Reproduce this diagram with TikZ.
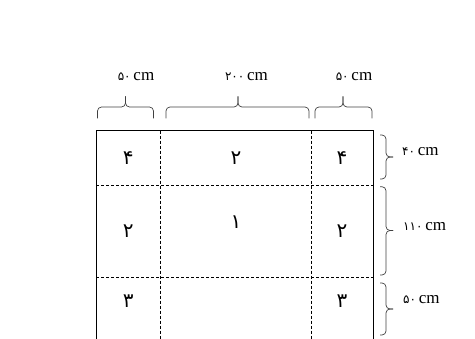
\documentclass[tikz,border=0pt]{standalone}
\usepackage{fontspec}
\setmainfont{Liberation Serif}
\newfontfamily\farsi[Script=Arabic]{DejaVu Sans}
\usetikzlibrary{positioning}

\begin{document}
\begin{tikzpicture}[x=1pt,y=-1pt]
 \tikzset{cell node/.style={font=\farsi\fontsize{20}{20}\selectfont,
 		text centered, inner sep=0pt}, }
 \tikzset{dim node/.style={font=\fontsize{17}{17}\selectfont,
 		inner sep=0pt}, }
 \tikzset{outer line/.style={line width=0.9pt}, }
 \tikzset{cut line/.style={dashed, line width=0.7pt,
 		dash pattern=on 3pt off 2pt}, }
 \tikzset{brace line/.style={line width=0.7pt, black!75,
 		rounded corners=4pt}, }
 \useasboundingbox (0,0) rectangle (475,339);
 % grid
 \coordinate (tl) at (96,130.7);
 \coordinate (tr) at (373,130.7);
 \coordinate (bl) at (96,339);
 \coordinate (br) at (373,339);
 \draw[outer line] (bl) -- (tl) -- (tr) -- (br);
 \draw[cut line] (96,185) -- (373,185);
 \draw[cut line] (96,277.7) -- (373,277.7);
 \draw[cut line] (160.7,130.7) -- (160.7,339);
 \draw[cut line] (311,130.7) -- (311,339);
 % cells
 \foreach \n/\x/\y/\t in {a/128.3/157.8/۴, b/236/157.8/۲, c/342/157.8/۴,
 		d/128.3/231/۲, e/236/222.5/۱, f/342/231/۲,
 		g/128.3/300.8/۳, h/342/300.8/۳}
 \node[cell node] (\n) at (\x,\y) {\t};
 % top braces
 \foreach \a/\m/\b in {97.5/125.5/153.5, 166/238/309, 315/343/372}
 {
 \draw[brace line] (\a,118.5) -- (\a,107) -- (\m,107) -- (\m,96.5);
 \draw[brace line] (\m,96.5) -- (\m,107) -- (\b,107) -- (\b,118.5);
 }
 % right braces
 \foreach \a/\m/\b in {135/157/179, 186.7/230.5/275, 283/309/335}
 {
 \draw[brace line] (380,\a) -- (386,\a) -- (386,\m) -- (393,\m);
 \draw[brace line] (393,\m) -- (386,\m) -- (386,\b) -- (380,\b);
 }
 % sizes
 \node[dim node] (w1) at (136,77) {{\farsi\fontsize{12}{12}\selectfont ۵۰}\,cm};
 \node[dim node] (w2) at (246.5,77) {{\farsi\fontsize{12}{12}\selectfont ۲۰۰}\,cm};
 \node[dim node] (w3) at (354,77) {{\farsi\fontsize{12}{12}\selectfont ۵۰}\,cm};
 \node[dim node, anchor=west] (h1) at (402,152) {{\farsi\fontsize{12}{12}\selectfont ۴۰}\,cm};
 \node[dim node, anchor=west] (h2) at (403,227) {{\farsi\fontsize{12}{12}\selectfont ۱۱۰}\,cm};
 \node[dim node, anchor=west] (h3) at (403,300) {{\farsi\fontsize{12}{12}\selectfont ۵۰}\,cm};
\end{tikzpicture}
\end{document}
